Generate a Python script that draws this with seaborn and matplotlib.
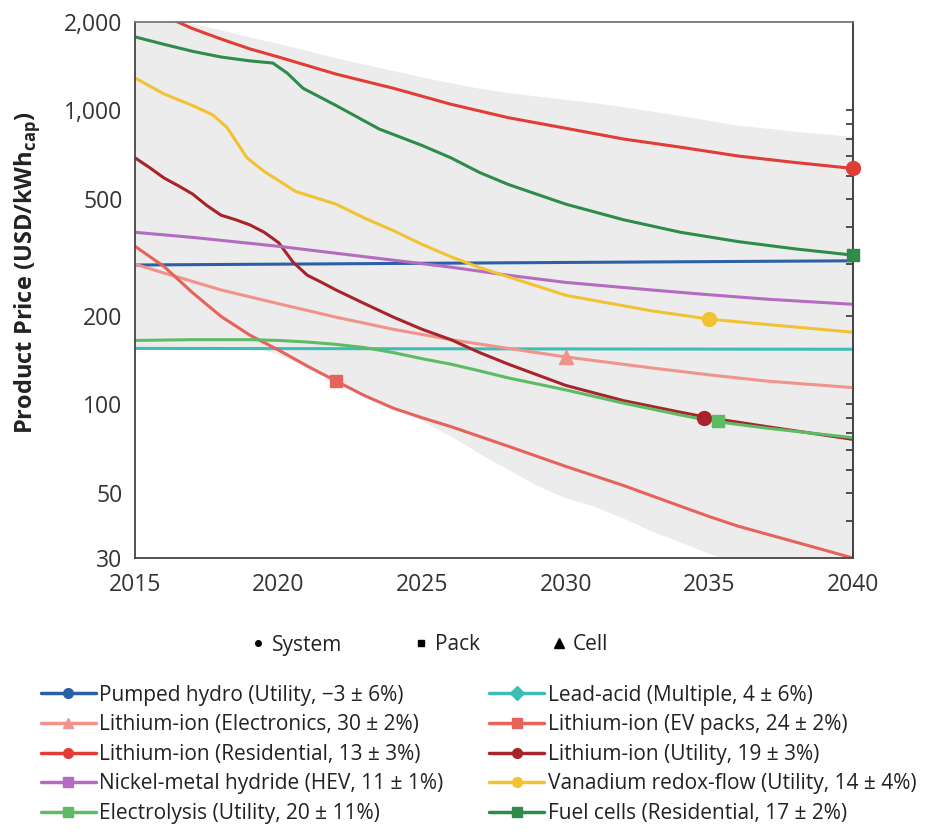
import numpy as np
import pandas as pd
import matplotlib
matplotlib.use("Agg")
import matplotlib.pyplot as plt
from matplotlib.lines import Line2D
from matplotlib.ticker import FixedLocator, NullFormatter
import seaborn as sns

sns.set_style("white")
plt.rcParams['font.family'] = ['Open Sans', 'DejaVu Sans']
plt.rcParams['mathtext.fontset'] = 'custom'
plt.rcParams['mathtext.rm'] = 'Open Sans'

# ---- data (USD/kWh_cap) ----
pumped_years = [2015, 2020, 2025, 2030, 2035, 2040]
pumped_vals = [298, 300, 302, 304, 306, 308]

lead_years = [2015, 2040]
lead_vals = [155, 154]

elec_years = [2015, 2016, 2017, 2018, 2020, 2022, 2024, 2026, 2028, 2030, 2033, 2035, 2037, 2040]
elec_vals = [300, 280, 262, 245, 220, 198, 180, 166, 155, 145, 133, 126, 120, 114]

ev_years = [2015, 2016, 2017, 2018, 2019, 2020, 2021, 2022, 2023, 2024, 2025, 2026, 2028, 2030,
            2032, 2034, 2035, 2036, 2038, 2040]
ev_vals = [345, 295, 240, 199, 172, 153, 135, 120, 107, 97, 90, 84, 72, 61.5,
           53, 45, 41.5, 38.5, 34, 30]

resi_years = [2015, 2016, 2017, 2018, 2019, 2020, 2022, 2024, 2026, 2028, 2030, 2032, 2034, 2036, 2038, 2040]
resi_vals = [2300, 2100, 1900, 1750, 1620, 1520, 1330, 1190, 1050, 945, 870, 800, 750, 700, 665, 635]

util_years = [2015, 2015.5, 2016, 2016.5, 2017, 2017.5, 2018, 2018.5, 2019, 2019.5, 2020, 2020.5,
              2021, 2021.5, 2022, 2023, 2024, 2025, 2026, 2027, 2028, 2030, 2032, 2034, 2035, 2037, 2040]
util_vals = [690, 640, 590, 555, 520, 475, 440, 425, 408, 385, 355, 305,
             275, 260, 245, 220, 198, 180, 166, 150, 137, 116, 103, 94, 90, 84, 76]

nimh_years = [2015, 2017, 2020, 2023, 2026, 2028, 2030, 2033, 2035, 2037, 2040]
nimh_vals = [385, 370, 345, 318, 293, 275, 260, 245, 236, 228, 219]

vrf_years = [2015, 2016, 2017, 2017.7, 2018.2, 2018.9, 2019.5, 2020.6, 2022, 2023, 2024, 2025,
             2026, 2027, 2030, 2033, 2035, 2037, 2040]
vrf_vals = [1290, 1140, 1040, 967, 876, 690, 620, 530, 480, 430, 390, 350,
            318, 292, 235, 208, 195, 187, 176]

lysis_years = [2015, 2017, 2019, 2020, 2021, 2022, 2023, 2024, 2025, 2026, 2027, 2028, 2030,
               2032, 2034, 2035, 2037, 2040]
lysis_vals = [165, 166, 166, 165, 163, 160, 156, 150, 143, 137, 130, 123, 112,
              101, 92, 88, 83, 77]

fuel_years = [2015, 2016, 2017, 2018, 2019, 2019.8, 2020.3, 2020.85, 2022, 2023.5, 2025,
              2026, 2027, 2028, 2030, 2032, 2034, 2036, 2038, 2040]
fuel_vals = [1780, 1680, 1590, 1520, 1475, 1450, 1340, 1190, 1040, 865, 760,
             690, 615, 560, 480, 425, 385, 358, 338, 322]

# shaded uncertainty envelope
band_years = [2015, 2016.8, 2018.4, 2019.3, 2020, 2021, 2022, 2023.5, 2025, 2026.3, 2027, 2028,
              2029, 2030, 2031, 2032, 2033, 2034, 2035, 2036, 2036.8, 2038, 2040]
band_low = [155, 155, 155, 155, 148, 133, 120, 103, 88, 75, 68, 60,
            53, 48, 45, 41, 37, 34, 31, 29, 27.5, 25.5, 22]
band_high = [2200, 2000, 1840, 1750, 1690, 1600, 1510, 1400, 1300, 1225, 1190, 1150,
             1120, 1090, 1063, 1030, 995, 960, 925, 890, 875, 850, 815]

labels = [
    "Pumped hydro (Utility, \u22123 \u00b1 6%)",
    "Lead-acid (Multiple, 4 \u00b1 6%)",
    "Lithium-ion (Electronics, 30 \u00b1 2%)",
    "Lithium-ion (EV packs, 24 \u00b1 2%)",
    "Lithium-ion (Residential, 13 \u00b1 3%)",
    "Lithium-ion (Utility, 19 \u00b1 3%)",
    "Nickel-metal hydride (HEV, 11 \u00b1 1%)",
    "Vanadium redox-flow (Utility, 14 \u00b1 4%)",
    "Electrolysis (Utility, 20 \u00b1 11%)",
    "Fuel cells (Residential, 17 \u00b1 2%)",
]
colors = ["#2b5fa6", "#3dbdb6", "#f0938a", "#e6625a", "#e23c36",
          "#a8232a", "#b56bc2", "#f1c232", "#5dbb63", "#2e8b4a"]
legend_markers = ["o", "D", "^", "s", "o", "o", "s", "o", "s", "s"]

series = [
    (pumped_years, pumped_vals), (lead_years, lead_vals), (elec_years, elec_vals),
    (ev_years, ev_vals), (resi_years, resi_vals), (util_years, util_vals),
    (nimh_years, nimh_vals), (vrf_years, vrf_vals), (lysis_years, lysis_vals),
    (fuel_years, fuel_vals),
]

# highlighted points (label index, year, value, marker)
point_idx = [4, 9, 7, 5, 8, 3, 2]
point_year = [2040, 2040, 2035, 2034.8, 2035.3, 2022, 2030]
point_val = [635, 322, 195, 90, 88, 120, 145]
point_marker = ["o", "s", "o", "o", "s", "s", "^"]

df = pd.concat([pd.DataFrame({"year": y, "price": v, "series": labels[i]})
                for i, (y, v) in enumerate(series)], ignore_index=True)
palette = dict(zip(labels, colors))

fig = plt.figure(figsize=(9.39, 8.34), dpi=100)
ax = fig.add_axes([0.1438, 0.3309, 0.7646, 0.6427])

ax.fill_between(band_years, band_low, band_high, color="#ececec", lw=0, zorder=0)
sns.lineplot(data=df, x="year", y="price", hue="series", hue_order=labels,
             palette=palette, linewidth=2.2, legend=False, ax=ax, zorder=2)

for i, yr, v, m in zip(point_idx, point_year, point_val, point_marker):
    ax.plot([yr], [v], marker=m, color=colors[i], markersize=10 if m != "s" else 9,
            linestyle="none", zorder=4, clip_on=False)

ax.set_yscale("log")
ax.set_xlim(2015, 2040)
ax.set_ylim(30, 2000)

major_y = [30, 50, 100, 200, 500, 1000, 2000]
minor_y = [40, 60, 70, 80, 90, 300, 400, 600, 700, 800, 900]
ax.yaxis.set_major_locator(FixedLocator(major_y))
ax.set_yticklabels([f"{v:,}" for v in major_y])
ax.yaxis.set_minor_locator(FixedLocator(minor_y))
ax.yaxis.set_minor_formatter(NullFormatter())
ax.set_xticks([2015, 2020, 2025, 2030, 2035, 2040])

ax.tick_params(axis="y", which="major", direction="inout", length=10, width=1.2,
               labelsize=16.5, colors="#333333", pad=4)
ax.tick_params(axis="y", which="minor", direction="in", length=5, width=1.2, colors="#333333")
ax.tick_params(axis="x", which="major", direction="out", length=6, width=1.2,
               labelsize=16.5, colors="#333333", pad=5)

right = ax.secondary_yaxis("right")
right.yaxis.set_major_locator(FixedLocator([40, 50, 60, 70, 80, 90, 100, 200, 300, 400,
                                            500, 600, 700, 800, 900, 1000]))
right.yaxis.set_major_formatter(NullFormatter())
right.yaxis.set_minor_locator(FixedLocator([]))
right.tick_params(direction="in", length=5, width=1.2, colors="#333333")
right.spines["right"].set_color("#444444")
right.spines["right"].set_linewidth(1.3)

for s in ["left", "bottom", "right"]:
    ax.spines[s].set_color("#444444")
    ax.spines[s].set_linewidth(1.3)
ax.spines["top"].set_color("#777777")
ax.spines["top"].set_linewidth(1.3)

ax.set_xlabel("")
ax.set_ylabel("Product Price (USD/kWh$_{\\mathregular{cap}}$)", fontsize=17,
              fontweight="bold", color="#222222", va="center")
ax.yaxis.set_label_coords(-0.150, 0.532)

# marker-type legend
type_handles = [Line2D([], [], marker=m, color="black", linestyle="none", markersize=ms)
                for m, ms in zip(["o", "s", "^"], [4, 5, 7])]
leg1 = fig.legend(type_handles, ["System", "Pack", "Cell"], loc="center",
                  bbox_to_anchor=(430 / 939, 1 - 645 / 834), ncol=3, frameon=False,
                  fontsize=15, handlelength=0.6, handletextpad=0.35, columnspacing=3.5)

# series legend (column-major order)
handles = [Line2D([], [], color=c, marker=m, markersize=7, linewidth=2.5)
           for c, m in zip(colors, legend_markers)]
order = [0, 2, 4, 6, 8, 1, 3, 5, 7, 9]
leg2 = fig.legend([handles[i] for i in order], [labels[i] for i in order],
                  loc="upper left", bbox_to_anchor=(22 / 939, 1 - 666 / 834), ncol=2,
                  frameon=False, fontsize=15, handlelength=2.65, handletextpad=0.15,
                  labelspacing=0.41, columnspacing=2.2)
for t in list(leg1.get_texts()) + list(leg2.get_texts()):
    t.set_color("#222222")

fig.savefig("out.png", dpi=100)
